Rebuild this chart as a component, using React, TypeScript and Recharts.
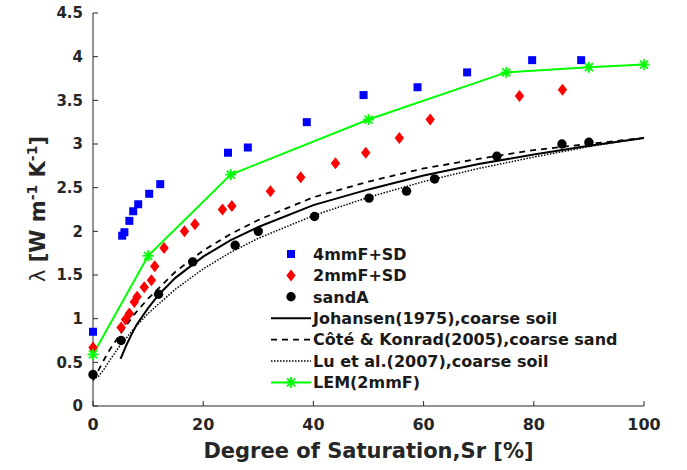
import React from 'react';
import { ComposedChart, Scatter, Line, XAxis, YAxis, Legend } from 'recharts';

const sd4X = [0, 5.3, 5.7, 6.6, 7.3, 8.2, 10.2, 12.2, 24.5, 28.1, 38.8, 49.1, 58.9, 67.9, 79.7, 88.6];
const sd4Y = [0.85, 1.95, 1.99, 2.12, 2.23, 2.31, 2.43, 2.54, 2.9, 2.96, 3.25, 3.56, 3.65, 3.82, 3.96, 3.96];

const sd2X = [0, 5.1, 5.9, 6.6, 7.5, 8.0, 9.3, 10.6, 11.2, 12.9, 16.6, 18.5, 23.5, 25.2, 32.2, 37.7, 44.0, 49.5, 55.6, 61.2, 77.4, 85.2];
const sd2Y = [0.67, 0.9, 0.99, 1.06, 1.19, 1.25, 1.36, 1.44, 1.6, 1.81, 2.0, 2.08, 2.25, 2.29, 2.46, 2.62, 2.78, 2.9, 3.07, 3.28, 3.55, 3.62];

const sandX = [0, 5.1, 11.9, 18.1, 25.8, 30.0, 40.2, 50.1, 56.9, 62.0, 73.3, 85.1, 90.0];
const sandY = [0.36, 0.75, 1.28, 1.65, 1.84, 2.0, 2.17, 2.38, 2.46, 2.6, 2.86, 3.0, 3.02];

// model curves
const johX = [5, 6, 7, 8, 10, 12, 15, 20, 25, 30, 40, 50, 60, 70, 80, 90, 100];
const johY = [0.54, 0.69, 0.82, 0.94, 1.12, 1.28, 1.47, 1.71, 1.9, 2.05, 2.3, 2.48, 2.64, 2.77, 2.88, 2.98, 3.07];

const coteX = [0, 1, 2, 3, 5, 7.5, 10, 15, 20, 25, 30, 40, 50, 60, 70, 80, 90, 100];
const coteY = [0.29, 0.41, 0.53, 0.64, 0.83, 1.05, 1.23, 1.54, 1.78, 1.97, 2.13, 2.39, 2.57, 2.72, 2.83, 2.93, 3.0, 3.07];

const luX = [0, 1, 2, 3, 5, 7.5, 10, 15, 20, 25, 30, 40, 50, 60, 70, 80, 90, 100];
const luY = [0.3, 0.34, 0.42, 0.52, 0.7, 0.89, 1.06, 1.34, 1.57, 1.76, 1.92, 2.18, 2.39, 2.57, 2.72, 2.85, 2.97, 3.07];

const lemX = [0, 10, 25, 50, 75, 90, 100];
const lemY = [0.59, 1.72, 2.65, 3.28, 3.82, 3.88, 3.91];

const xTicks = [0, 20, 40, 60, 80, 100];
const yTicks = [0, 0.5, 1, 1.5, 2, 2.5, 3, 3.5, 4, 4.5];

const legendNames = [
  '4mmF+SD',
  '2mmF+SD',
  'sandA',
  'Johansen(1975),coarse soil',
  'Côté & Konrad(2005),coarse sand',
  'Lu et al.(2007),coarse soil',
  'LEM(2mmF)',
];

const toPoints = (xs: number[], ys: number[]) => xs.map((x, i) => ({ x, y: ys[i] }));

const AXIS = '#262626';
const FONT = '"DejaVu Sans", sans-serif';
const GREEN = '#00ff00';

const Square = ({ cx, cy }: any) => <rect x={cx - 4} y={cy - 4} width={8} height={8} fill="#0000ff" />;
const Diamond = ({ cx, cy }: any) => (
  <path d={`M${cx},${cy - 6} L${cx + 4.7},${cy} L${cx},${cy + 6} L${cx - 4.7},${cy} Z`} fill="#ff0000" />
);
const Dot = ({ cx, cy }: any) => <circle cx={cx} cy={cy} r={4.7} fill="#000" />;
const Star = ({ cx, cy }: any) => (
  <g stroke={GREEN} strokeWidth={1.8}>
    <line x1={cx - 5.5} y1={cy} x2={cx + 5.5} y2={cy} />
    <line x1={cx} y1={cy - 5.5} x2={cx} y2={cy + 5.5} />
    <line x1={cx - 4} y1={cy - 4} x2={cx + 4} y2={cy + 4} />
    <line x1={cx - 4} y1={cy + 4} x2={cx + 4} y2={cy - 4} />
  </g>
);

const BottomTick = ({ x, y, payload }: any) => (
  <g>
    <line x1={x} y1={y} x2={x} y2={y - 5} stroke={AXIS} />
    <text x={x} y={y + 24} textAnchor="middle" fontFamily={FONT} fontWeight="bold" fontSize={16} fill={AXIS}>
      {payload.value}
    </text>
  </g>
);
const LeftTick = ({ x, y, payload }: any) => (
  <g>
    <line x1={x} y1={y} x2={x + 5} y2={y} stroke={AXIS} />
    <text x={x - 10} y={y} dy="0.36em" textAnchor="end" fontFamily={FONT} fontWeight="bold" fontSize={15} fill={AXIS}>
      {payload.value}
    </text>
  </g>
);
const TopTick = ({ x, y }: any) => <line x1={x} y1={y} x2={x} y2={y + 5} stroke={AXIS} />;
const RightTick = ({ x, y }: any) => <line x1={x} y1={y} x2={x - 5} y2={y} stroke={AXIS} />;

function LegendBox() {
  const row = (i: number) => 11 + i * 21.4;
  const mx = 23;
  return (
    <svg width={370} height={152} style={{ display: 'block', overflow: 'visible' }}>
      <Square cx={mx} cy={row(0)} />
      <Diamond cx={mx} cy={row(1)} />
      <Dot cx={mx} cy={row(2)} />
      <line x1={3} x2={43} y1={row(3)} y2={row(3)} stroke="#000" strokeWidth={2} />
      <line x1={3} x2={43} y1={row(4)} y2={row(4)} stroke="#000" strokeWidth={1.8} strokeDasharray="6 5" />
      <line x1={3} x2={43} y1={row(5)} y2={row(5)} stroke="#000" strokeWidth={1.5} strokeDasharray="1.5 1.5" />
      <line x1={3} x2={43} y1={row(6)} y2={row(6)} stroke={GREEN} strokeWidth={2} />
      <Star cx={mx} cy={row(6)} />
      {legendNames.map((n, i) => (
        <text key={n} x={45} y={row(i)} dy="0.36em" fontFamily={FONT} fontWeight="bold" fontSize={16} fill="#1a1a1a">
          {n}
        </text>
      ))}
    </svg>
  );
}

export default function App() {
  return (
    <div style={{ position: 'absolute', left: 0, top: 0, background: '#fff' }}>
      <ComposedChart width={687} height={470} margin={{ top: 13, right: 43, bottom: 0, left: 0 }}>
        <XAxis
          type="number"
          dataKey="x"
          domain={[0, 100]}
          ticks={xTicks}
          height={64}
          tickSize={0}
          tickMargin={0}
          stroke={AXIS}
          tick={<BottomTick />}
          label={{
            content: () => (
              <text x={368.5} y={458} textAnchor="middle" fontFamily={FONT} fontWeight="bold" fontSize={21} fill={AXIS}>
                Degree of Saturation,Sr [%]
              </text>
            ),
          }}
        />
        <XAxis
          xAxisId="top"
          orientation="top"
          type="number"
          domain={[0, 100]}
          ticks={xTicks}
          height={0}
          tickSize={0}
          stroke={AXIS}
          tick={<TopTick />}
        />
        <YAxis
          type="number"
          dataKey="y"
          domain={[0, 4.5]}
          ticks={yTicks}
          width={93}
          tickSize={0}
          tickMargin={0}
          stroke={AXIS}
          tick={<LeftTick />}
          label={{
            content: () => (
              <text
                x={45}
                y={209}
                transform="rotate(-90, 45, 209)"
                textAnchor="middle"
                fontFamily={FONT}
                fontSize={21}
                fill={AXIS}
              >
                <tspan>λ</tspan>
                <tspan fontWeight="bold"> [W m</tspan>
                <tspan fontWeight="bold" fontSize={14} dy={-8}>-1</tspan>
                <tspan fontWeight="bold" dy={8}> K</tspan>
                <tspan fontWeight="bold" fontSize={14} dy={-8}>-1</tspan>
                <tspan fontWeight="bold" dy={8}>]</tspan>
              </text>
            ),
          }}
        />
        <YAxis
          yAxisId="right"
          orientation="right"
          type="number"
          domain={[0, 4.5]}
          ticks={yTicks}
          width={0}
          tickSize={0}
          stroke={AXIS}
          tick={<RightTick />}
        />
        <Line data={toPoints(johX, johY)} dataKey="y" stroke="#000" strokeWidth={2} dot={false} activeDot={false} isAnimationActive={false} />
        <Line data={toPoints(coteX, coteY)} dataKey="y" stroke="#000" strokeWidth={1.8} strokeDasharray="6 5" dot={false} activeDot={false} isAnimationActive={false} />
        <Line data={toPoints(luX, luY)} dataKey="y" stroke="#000" strokeWidth={1.5} strokeDasharray="1.5 1.5" dot={false} activeDot={false} isAnimationActive={false} />
        <Scatter data={toPoints(sd4X, sd4Y)} shape={<Square />} isAnimationActive={false} />
        <Scatter data={toPoints(sd2X, sd2Y)} shape={<Diamond />} isAnimationActive={false} />
        <Scatter data={toPoints(sandX, sandY)} shape={<Dot />} isAnimationActive={false} />
        <Line
          data={toPoints(lemX, lemY)}
          dataKey="y"
          stroke={GREEN}
          strokeWidth={2}
          dot={(p: any) => <Star key={p.index} cx={p.cx} cy={p.cy} />}
          activeDot={false}
          isAnimationActive={false}
        />
        <Legend
          layout="vertical"
          align="center"
          verticalAlign="middle"
          wrapperStyle={{ left: 268, top: 243, width: 370, height: 152 }}
          content={() => <LegendBox />}
        />
      </ComposedChart>
    </div>
  );
}
